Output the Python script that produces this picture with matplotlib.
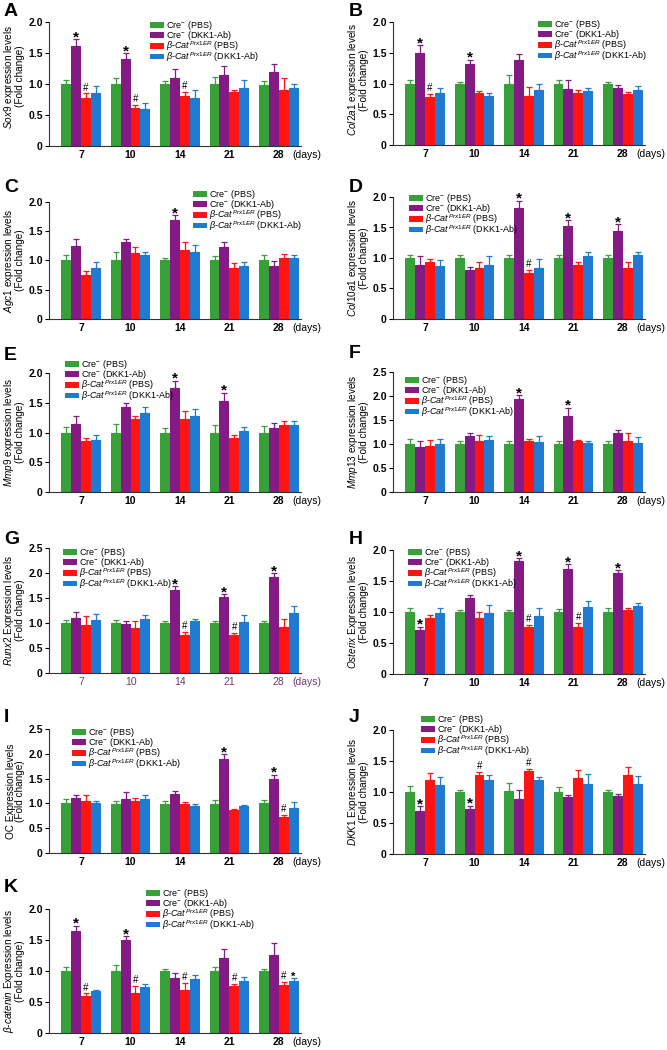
import matplotlib
matplotlib.use('Agg')
import matplotlib.pyplot as plt
from matplotlib.patches import Patch
from matplotlib.ticker import FuncFormatter
import numpy as np

plt.rcParams['font.family'] = ['Liberation Sans', 'DejaVu Sans']
plt.rcParams['mathtext.fontset'] = 'custom'
plt.rcParams['mathtext.rm'] = 'Liberation Sans'
plt.rcParams['mathtext.it'] = 'Liberation Sans:italic'
plt.rcParams['mathtext.bf'] = 'Liberation Sans:bold'

days = ['7', '10', '14', '21', '28']
groups = ['Cre$^{-}$ (PBS)', 'Cre$^{-}$ (DKK1-Ab)',
          r'$\mathit{\beta}$-$\mathit{Cat}^{\mathit{Prx1ER}}$ (PBS)',
          r'$\mathit{\beta}$-$\mathit{Cat}^{\mathit{Prx1ER}}$ (DKK1-Ab)']
colors = ['#38a038', '#841a84', '#ff1414', '#1f7bd2']

# rows: Cre(PBS), Cre(DKK1-Ab), b-Cat(PBS), b-Cat(DKK1-Ab); columns: days
sox9 = [[1.00, 1.00, 1.00, 1.00, 0.99], [1.62, 1.40, 1.09, 1.15, 1.19],
        [0.78, 0.62, 0.80, 0.87, 0.90], [0.86, 0.59, 0.77, 0.93, 0.94]]
sox9_err = [[0.06, 0.10, 0.05, 0.12, 0.06], [0.10, 0.10, 0.15, 0.14, 0.14],
            [0.07, 0.04, 0.07, 0.04, 0.19], [0.11, 0.10, 0.13, 0.14, 0.06]]
sox9_marks = [(0, 1, '*'), (0, 2, '#'), (1, 1, '*'), (1, 2, '#'), (2, 2, '#')]

col2a1 = [[1.00, 1.00, 1.00, 1.00, 1.00], [1.50, 1.32, 1.38, 0.91, 0.92],
          [0.78, 0.84, 0.80, 0.84, 0.83], [0.85, 0.80, 0.90, 0.87, 0.89]]
col2a1_err = [[0.06, 0.03, 0.14, 0.05, 0.03], [0.12, 0.07, 0.10, 0.14, 0.06],
              [0.05, 0.04, 0.15, 0.05, 0.03], [0.07, 0.04, 0.10, 0.06, 0.07]]
col2a1_marks = [(0, 1, '*'), (0, 2, '#'), (1, 1, '*')]

agc1 = [[1.00, 1.00, 1.00, 1.00, 1.00], [1.24, 1.32, 1.70, 1.23, 0.90],
        [0.76, 1.12, 1.18, 0.88, 1.04], [0.87, 1.09, 1.14, 0.90, 1.04]]
agc1_err = [[0.10, 0.14, 0.05, 0.07, 0.10], [0.13, 0.05, 0.07, 0.08, 0.09],
            [0.06, 0.11, 0.13, 0.07, 0.07], [0.10, 0.06, 0.12, 0.08, 0.06]]
agc1_marks = [(2, 1, '*')]

col10a1 = [[1.00, 1.00, 1.00, 1.00, 1.00], [0.89, 0.80, 1.82, 1.52, 1.45],
           [0.93, 0.84, 0.75, 0.89, 0.83], [0.87, 0.88, 0.84, 1.03, 1.05]]
col10a1_err = [[0.05, 0.05, 0.05, 0.05, 0.05], [0.14, 0.05, 0.12, 0.10, 0.10],
               [0.06, 0.10, 0.06, 0.05, 0.11], [0.09, 0.16, 0.14, 0.07, 0.05]]
col10a1_marks = [(2, 1, '*'), (2, 2, '#'), (3, 1, '*'), (4, 1, '*')]

mmp9 = [[0.99, 0.99, 1.00, 1.00, 0.99], [1.14, 1.43, 1.75, 1.53, 1.08],
        [0.85, 1.22, 1.22, 0.90, 1.13], [0.87, 1.32, 1.27, 1.03, 1.13]]
mmp9_err = [[0.11, 0.16, 0.07, 0.13, 0.12], [0.14, 0.06, 0.12, 0.14, 0.08],
            [0.06, 0.06, 0.14, 0.06, 0.07], [0.09, 0.11, 0.13, 0.06, 0.07]]
mmp9_marks = [(2, 1, '*'), (3, 1, '*')]

mmp13 = [[1.01, 1.00, 1.00, 1.00, 1.01], [0.94, 1.17, 1.93, 1.59, 1.22],
         [0.96, 1.06, 1.06, 1.06, 1.06], [0.99, 1.09, 1.05, 1.03, 1.03]]
mmp13_err = [[0.09, 0.07, 0.06, 0.06, 0.05], [0.13, 0.05, 0.09, 0.17, 0.08],
             [0.13, 0.13, 0.04, 0.02, 0.16], [0.11, 0.08, 0.12, 0.04, 0.12]]
mmp13_marks = [(2, 1, '*'), (3, 1, '*')]

runx2 = [[1.01, 1.01, 1.01, 1.01, 1.01], [1.10, 0.99, 1.66, 1.52, 1.93],
         [0.96, 0.91, 0.77, 0.76, 0.93], [1.07, 1.08, 1.05, 1.02, 1.21]]
runx2_err = [[0.06, 0.05, 0.04, 0.04, 0.04], [0.12, 0.05, 0.08, 0.06, 0.07],
             [0.18, 0.13, 0.06, 0.05, 0.15], [0.12, 0.08, 0.04, 0.14, 0.14]]
runx2_marks = [(2, 1, '*'), (2, 2, '#'), (3, 1, '*'), (3, 2, '#'), (4, 1, '*')]

osterix = [[1.00, 1.00, 1.00, 1.00, 1.00], [0.71, 1.22, 1.82, 1.69, 1.63],
           [0.91, 0.90, 0.76, 0.76, 1.04], [0.98, 0.99, 0.94, 1.08, 1.09]]
osterix_err = [[0.06, 0.03, 0.04, 0.05, 0.06], [0.05, 0.06, 0.05, 0.08, 0.04],
               [0.04, 0.10, 0.03, 0.07, 0.03], [0.09, 0.13, 0.12, 0.09, 0.05]]
osterix_marks = [(0, 1, '*'), (2, 1, '*'), (2, 2, '#'), (3, 1, '*'), (3, 2, '#'), (4, 1, '*')]

oc = [[1.01, 0.99, 0.99, 0.99, 1.01], [1.10, 1.09, 1.18, 1.90, 1.50],
      [1.04, 1.04, 0.99, 0.86, 0.72], [1.01, 1.09, 0.95, 0.94, 0.90]]
oc_err = [[0.07, 0.06, 0.06, 0.07, 0.06], [0.07, 0.13, 0.07, 0.09, 0.08],
          [0.12, 0.07, 0.04, 0.02, 0.05], [0.04, 0.07, 0.04, 0.03, 0.12]]
oc_marks = [(3, 1, '*'), (4, 1, '*'), (4, 2, '#')]

dkk1 = [[1.00, 1.00, 1.01, 1.00, 1.00], [0.70, 0.73, 0.89, 0.92, 0.94],
        [1.20, 1.28, 1.34, 1.22, 1.27], [1.11, 1.20, 1.19, 1.13, 1.13]]
dkk1_err = [[0.09, 0.03, 0.14, 0.08, 0.04], [0.07, 0.05, 0.15, 0.03, 0.03],
            [0.10, 0.04, 0.03, 0.13, 0.14], [0.14, 0.08, 0.06, 0.16, 0.13]]
dkk1_marks = [(0, 1, '*'), (1, 1, '*'), (1, 2, '#'), (2, 2, '#')]

bcat = [[1.00, 1.00, 1.00, 1.00, 1.00], [1.64, 1.50, 0.88, 1.21, 1.26],
        [0.60, 0.65, 0.70, 0.76, 0.77], [0.67, 0.74, 0.87, 0.84, 0.84]]
bcat_err = [[0.06, 0.10, 0.04, 0.07, 0.03], [0.09, 0.06, 0.08, 0.14, 0.19],
            [0.04, 0.11, 0.11, 0.03, 0.05], [0.03, 0.05, 0.06, 0.07, 0.04]]
bcat_marks = [(0, 1, '*'), (0, 2, '#'), (1, 1, '*'), (1, 2, '#'), (2, 2, '#'),
              (3, 2, '#'), (4, 2, '#'), (4, 3, 'small*')]

ylabels = [r'$\mathit{Sox9}$ expression levels', r'$\mathit{Col2a1}$ expression levels',
           r'$\mathit{Agc1}$ expression levels', r'$\mathit{Col10a1}$ expression levels',
           r'$\mathit{Mmp9}$ expression levels', r'$\mathit{Mmp13}$ expression levels',
           r'$\mathit{Runx2}$ Expression levels', r'$\mathit{Osterix}$ Expression levels',
           'OC Expression levels', r'$\mathit{DKK1}$ Expression levels',
           r'$\mathit{\beta}$-$\mathit{catenin}$ Expression levels']
ymaxes = [2.0, 2.0, 2.0, 2.0, 2.0, 2.5, 2.5, 2.0, 2.5, 2.0, 2.0]
letters = list('ABCDEFGHIJK')
means = [sox9, col2a1, agc1, col10a1, mmp9, mmp13, runx2, osterix, oc, dkk1, bcat]
errs = [sox9_err, col2a1_err, agc1_err, col10a1_err, mmp9_err, mmp13_err,
        runx2_err, osterix_err, oc_err, dkk1_err, bcat_err]
marks = [sox9_marks, col2a1_marks, agc1_marks, col10a1_marks, mmp9_marks, mmp13_marks,
         runx2_marks, osterix_marks, oc_marks, dkk1_marks, bcat_marks]

# layout in pixels: (axes top, axes bottom), legend (x, y), letter y, label centre
W, H = 667, 1050
ax_tb = [(22, 146), (22, 145), (202, 319), (197, 319), (373, 492), (372, 492),
         (548, 673), (550, 674), (729, 853), (730, 854), (909, 1033)]
leg_xy = [(150, 19), (538, 18), (193, 188), (409, 192), (65, 358), (405, 374),
          (63, 546), (408, 546), (72, 726), (421, 713), (146, 887)]
letter_y = [12, 12, 187, 188, 355, 353, 539, 540, 717, 717, 887]
label_y = [0.56, 0.53, 0.5, 0.5, 0.5, 0.5, 0.5, 0.5, 0.5, 0.5, 0.5]

fig = plt.figure(figsize=(W / 100, H / 100), dpi=100)

for p in range(11):
    left = 49 if p % 2 == 0 else 393
    top, bottom = ax_tb[p]
    ax = fig.add_axes([left / W, 1 - bottom / H, 252 / W, (bottom - top) / H])
    x = np.arange(5)
    for k in range(4):
        xs = x + (k - 1.5) * 0.2
        m = np.array(means[p][k])
        e = np.array(errs[p][k])
        ax.bar(xs, m, width=0.2, color=colors[k], zorder=2)
        ax.errorbar(xs, m, yerr=[np.zeros(5), e], fmt='none', ecolor=colors[k],
                    elinewidth=0.9, capsize=2, capthick=0.9, zorder=3)
    for (d, k, sym) in marks[p]:
        xs = d + (k - 1.5) * 0.2
        top_y = means[p][k][d] + errs[p][k][d]
        if sym == '*':
            ax.annotate('*', (xs, top_y), xytext=(0, -1.5), textcoords='offset points',
                        ha='center', va='baseline', fontsize=11, fontweight='bold')
        elif sym == 'small*':
            ax.annotate('*', (xs, top_y), xytext=(0, -1), textcoords='offset points',
                        ha='center', va='baseline', fontsize=8, fontweight='bold')
        else:
            ax.annotate('#', (xs, top_y), xytext=(0, 2), textcoords='offset points',
                        ha='center', va='baseline', fontsize=7)

    ax.set_xlim(-0.65, 4.45)
    ax.set_ylim(0, ymaxes[p])
    ax.set_yticks(np.arange(0, ymaxes[p] + 0.01, 0.5))
    ax.yaxis.set_major_formatter(FuncFormatter(lambda v, pos: '0' if v == 0 else '%.1f' % v))
    ax.set_xticks(x)
    tick_color = '#6e3a72' if letters[p] == 'G' else 'black'
    ax.set_xticklabels(days, fontsize=7.5, color=tick_color,
                       fontweight='normal' if letters[p] == 'G' else 'bold')
    for lab in ax.get_yticklabels():
        lab.set_fontweight('bold')
        lab.set_fontsize(7.5)
    ax.tick_params(axis='x', length=0, pad=3)
    ax.tick_params(axis='y', length=3, width=0.8, pad=1.5, direction='out')
    for s in ['top', 'right']:
        ax.spines[s].set_visible(False)
    for s in ['left', 'bottom']:
        ax.spines[s].set_linewidth(0.8)
        ax.spines[s].set_color('#333333')
    ax.annotate('(days)', (4.27, 0), xycoords=('data', 'axes fraction'),
                xytext=(0, -3), textcoords='offset points', ha='left', va='top',
                fontsize=7.5, color=tick_color)

    ax.set_ylabel(ylabels[p] + '\n(Fold change)', fontsize=7.2, linespacing=0.9)
    ax.yaxis.set_label_coords(-0.095, label_y[p])

    handles = [Patch(facecolor=c) for c in colors]
    lx, ly = leg_xy[p]
    ax.legend(handles, groups, loc='upper left', bbox_to_anchor=(lx / W, 1 - ly / H),
              bbox_transform=fig.transFigure, frameon=False, fontsize=6.5,
              borderpad=0, borderaxespad=0, handlelength=1.5, handleheight=0.6,
              handletextpad=0.3, labelspacing=-0.32)

    lxp = 4 if p % 2 == 0 else 349
    fig.text(lxp / W, 1 - letter_y[p] / H, letters[p], fontsize=14, fontweight='bold',
             ha='left', va='center')

fig.savefig('out.png', dpi=100)
